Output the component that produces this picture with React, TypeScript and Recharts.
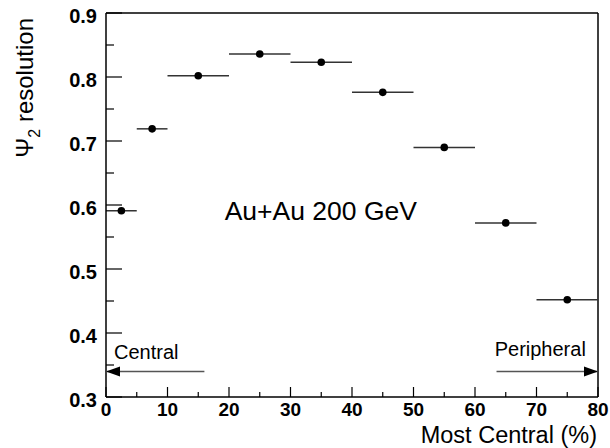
import React from "react";
import {
  ScatterChart,
  Scatter,
  XAxis,
  YAxis,
  ErrorBar,
  ReferenceLine,
  ReferenceDot,
} from "recharts";

// centrality bins (% most central) and the Psi_2 event plane resolution
const binCenters = [2.5, 7.5, 15, 25, 35, 45, 55, 65, 75];
const binHalfWidths = [2.5, 2.5, 5, 5, 5, 5, 5, 5, 5];
const resolution = [0.591, 0.719, 0.802, 0.836, 0.823, 0.776, 0.69, 0.572, 0.452];

const xTicks = [0, 5, 10, 15, 20, 25, 30, 35, 40, 45, 50, 55, 60, 65, 70, 75, 80];
const yTicks = [0.3, 0.35, 0.4, 0.45, 0.5, 0.55, 0.6, 0.65, 0.7, 0.75, 0.8, 0.85, 0.9];

const centralArrow = [
  { x: 0, y: 0.34 },
  { x: 16, y: 0.34 },
];
const peripheralArrow = [
  { x: 63.5, y: 0.34 },
  { x: 80, y: 0.34 },
];

const points = binCenters.map((x, i) => ({
  x,
  y: resolution[i],
  xerr: binHalfWidths[i],
}));

const FONT = "'Liberation Sans', Arial, Helvetica, sans-serif";

const XTick = (props: any) => {
  const { x, y, payload } = props;
  const major = Math.round(payload.value) % 10 === 0;
  return (
    <g>
      <line x1={x} x2={x} y1={y} y2={y - (major ? 10 : 5)} stroke="#000" strokeWidth={1.2} />
      {major && (
        <text x={x} y={y + 19} textAnchor="middle" fontFamily={FONT} fontWeight="bold" fontSize={19} fill="#000">
          {payload.value}
        </text>
      )}
    </g>
  );
};

const YTick = (props: any) => {
  const { x, y, payload } = props;
  const major = Math.round(payload.value * 100) % 10 === 0;
  return (
    <g>
      <line x1={x} x2={x + (major ? 16 : 8)} y1={y} y2={y} stroke="#000" strokeWidth={1.2} />
      {major && (
        <text x={x - 9} y={y + 10} textAnchor="end" fontFamily={FONT} fontWeight="bold" fontSize={20} fill="#000">
          {payload.value.toFixed(1)}
        </text>
      )}
    </g>
  );
};

const Dot = (props: any) => <circle cx={props.cx} cy={props.cy} r={3.8} fill="#000" />;

const arrowHead = (headX: number, dir: number) => (props: any) => {
  const { cx, cy, payload } = props;
  if (payload.x !== headX) return <g />;
  const back = cx - dir * 14;
  return <polygon points={`${cx},${cy} ${back},${cy - 5} ${back},${cy + 5}`} fill="#000" />;
};

const textLabel = (value: string, size: number) => (props: any) => {
  const { viewBox } = props;
  return (
    <text x={viewBox.x} y={viewBox.y} fontFamily={FONT} fontSize={size} fill="#000">
      {value}
    </text>
  );
};

export default function App() {
  return (
    <div style={{ position: "absolute", left: 0, top: 0, background: "#fff" }}>
      <ScatterChart width={610} height={448} margin={{ top: 13, right: 12, bottom: 0, left: 0 }}>
        <XAxis
          type="number"
          dataKey="x"
          domain={[0, 80]}
          ticks={xTicks}
          interval={0}
          height={51}
          tickSize={0}
          tickMargin={0}
          tick={<XTick />}
          tickLine={false}
          axisLine={{ stroke: "#000", strokeWidth: 1.5 }}
          label={{
            content: (p: any) => (
              <text
                x={p.viewBox.x + p.viewBox.width - 1}
                y={p.viewBox.y + 46}
                textAnchor="end"
                fontFamily={FONT}
                fontSize={23.5}
                fill="#000"
              >
                Most Central (%)
              </text>
            ),
          }}
        />
        <YAxis
          type="number"
          dataKey="y"
          domain={[0.3, 0.9]}
          ticks={yTicks}
          interval={0}
          width={106}
          tickSize={0}
          tickMargin={0}
          tick={<YTick />}
          tickLine={false}
          axisLine={{ stroke: "#000", strokeWidth: 1.5 }}
          label={{
            content: () => (
              <text
                transform="translate(33,18) rotate(-90)"
                textAnchor="end"
                fontFamily={FONT}
                fontSize={24}
                fill="#000"
              >
                Ψ<tspan fontSize={16} dy={7}>2</tspan>
                <tspan dy={-7}> resolution</tspan>
              </text>
            ),
          }}
        />
        <ReferenceLine y={0.9} stroke="#000" strokeWidth={1.5} />
        <ReferenceLine x={80} stroke="#000" strokeWidth={1.5} />

        <Scatter data={points} shape={<Dot />} isAnimationActive={false}>
          <ErrorBar dataKey="xerr" direction="x" width={0} stroke="#333" strokeWidth={1.5} isAnimationActive={false} />
        </Scatter>

        <Scatter
          data={centralArrow}
          line={{ stroke: "#555", strokeWidth: 1.5 }}
          shape={arrowHead(centralArrow[0].x, -1)}
          isAnimationActive={false}
        />
        <Scatter
          data={peripheralArrow}
          line={{ stroke: "#555", strokeWidth: 1.5 }}
          shape={arrowHead(peripheralArrow[1].x, 1)}
          isAnimationActive={false}
        />

        <ReferenceDot x={19.3} y={0.577} r={0} fill="none" stroke="none" label={{ content: textLabel("Au+Au 200 GeV", 26.5) }} />
        <ReferenceDot x={1.3} y={0.359} r={0} fill="none" stroke="none" label={{ content: textLabel("Central", 20) }} />
        <ReferenceDot x={63.2} y={0.364} r={0} fill="none" stroke="none" label={{ content: textLabel("Peripheral", 20) }} />
      </ScatterChart>
    </div>
  );
}
